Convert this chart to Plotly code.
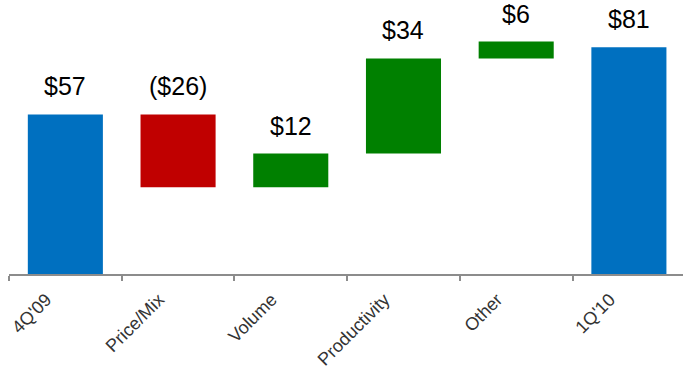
import plotly.graph_objects as go

# Bridge of quarterly results: opening total, drivers, closing total
categories = ["4Q'09", "Price/Mix", "Volume", "Productivity", "Other", "1Q'10"]
values = [57, -26, 12, 34, 6, 81]
measures = ["absolute", "relative", "relative", "relative", "relative", "absolute"]
value_labels = ["$57", "($26)", "$12", "$34", "$6", "$81"]

BLUE = "#0070C0"
RED = "#C00000"
GREEN = "#008000"

fig = go.Figure(
    go.Waterfall(
        x=categories,
        y=values,
        measure=measures,
        increasing=dict(marker=dict(color=GREEN)),
        decreasing=dict(marker=dict(color=RED)),
        totals=dict(marker=dict(color=BLUE)),
        connector=dict(visible=False),
        hoverinfo="x+y",
    )
)

# Value labels sit just above the top edge of each bar
running = 0
for cat, val, meas, lab in zip(categories, values, measures, value_labels):
    if meas == "absolute":
        start, running = 0, val
    else:
        start, running = running, running + val
    top = max(start, running)
    fig.add_annotation(
        x=cat, y=top, text=lab, showarrow=False,
        yanchor="bottom", yshift=12,
        font=dict(family="Liberation Sans, Arial, sans-serif", size=25, color="#000000"),
    )

fig.update_layout(
    width=683, height=371,
    margin=dict(l=9, r=0, t=22, b=97),
    paper_bgcolor="white", plot_bgcolor="white",
    showlegend=False,
    waterfallgap=0.334,
    font=dict(family="Liberation Sans, Arial, sans-serif"),
)
fig.update_xaxes(
    range=[-0.5, 5.48],
    automargin=False,
    showline=True, linecolor="#8c8c8c", linewidth=2,
    ticks="outside", tickson="boundaries", ticklen=5, tickcolor="#8c8c8c", tickwidth=2,
    tickangle=-45,
    tickfont=dict(family="Liberation Sans, Arial, sans-serif", size=18, color="#333333"),
    ticklabelshift=-19,
    ticklabelstandoff=6,
    showgrid=False, zeroline=False,
)
fig.update_yaxes(range=[0, 90], visible=False, showgrid=False, zeroline=False)

fig.write_html("out.html")
